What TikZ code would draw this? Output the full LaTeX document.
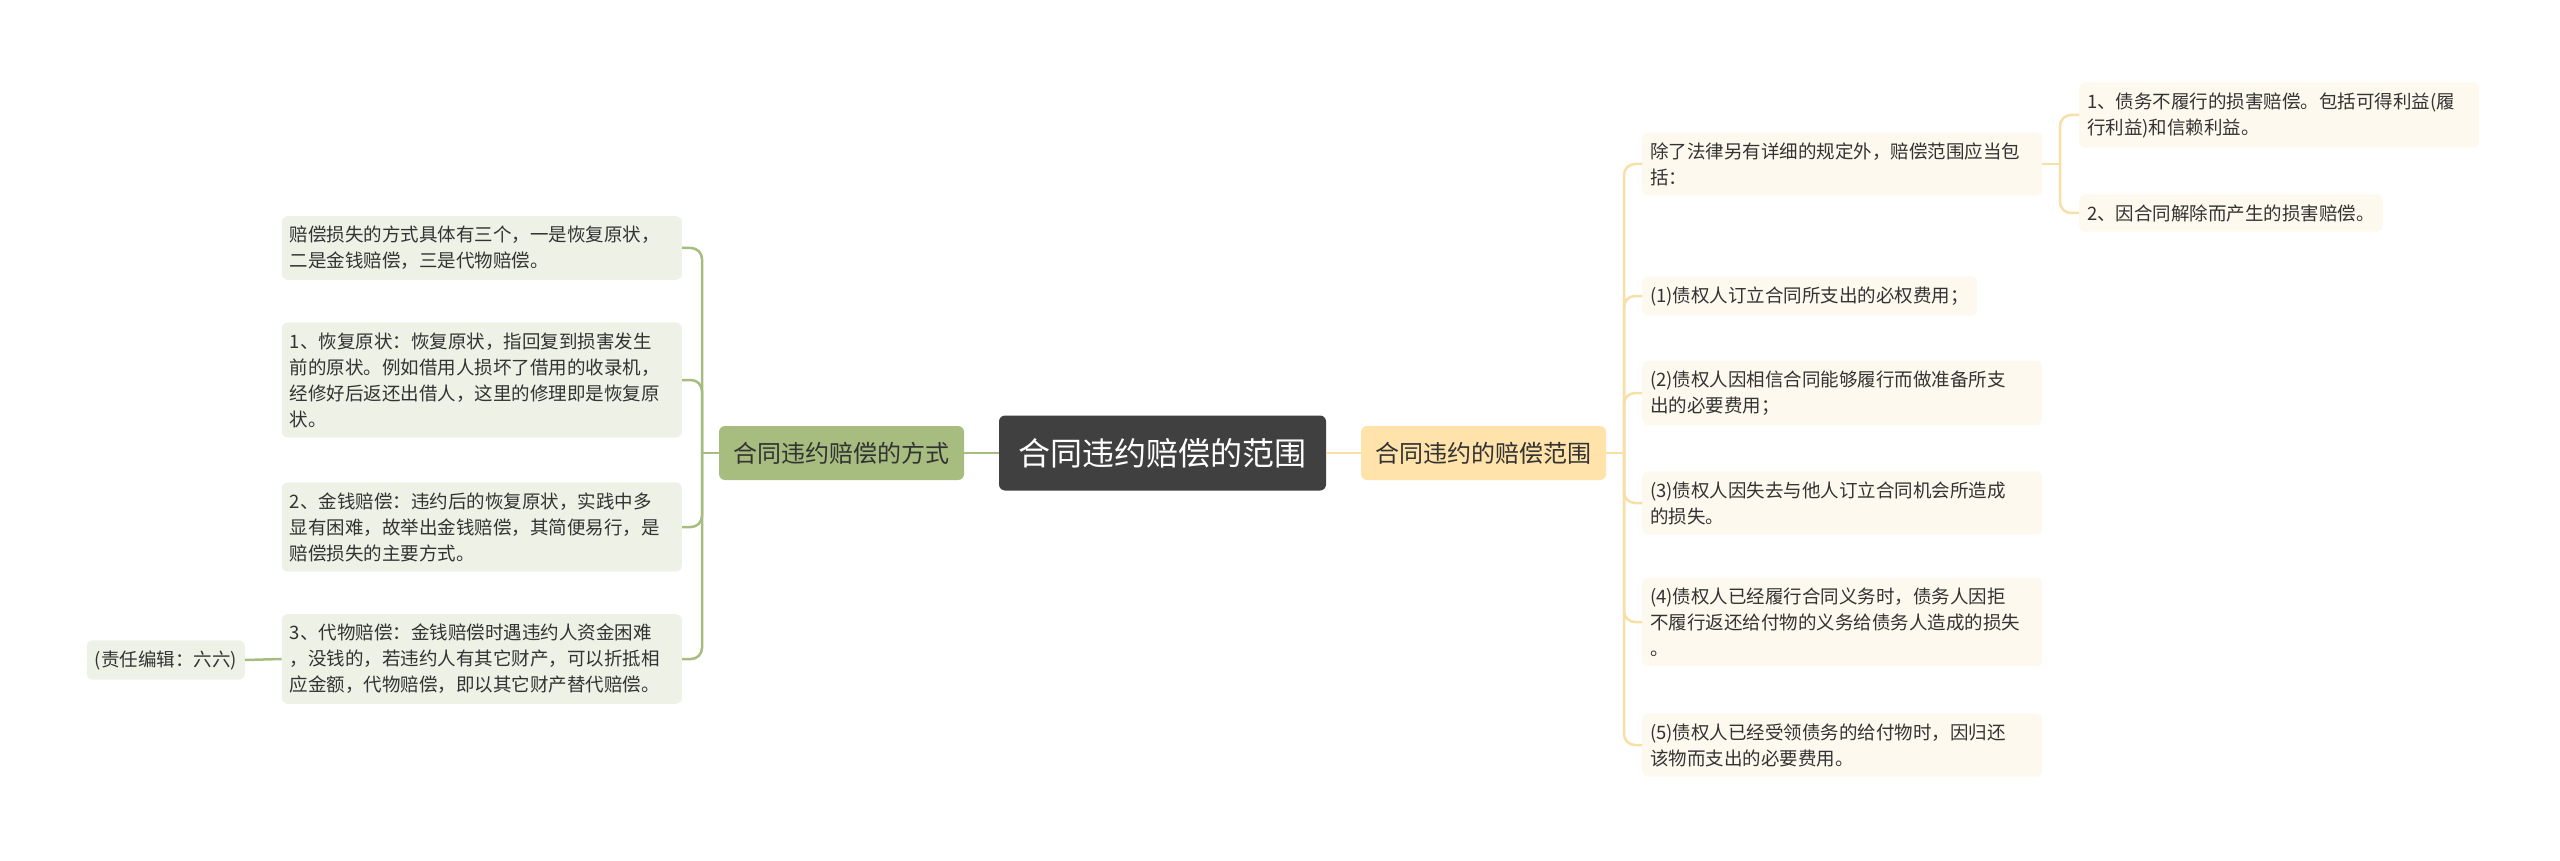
\documentclass[tikz,border=0pt]{standalone}
\usepackage{fontspec}
\setmainfont{Noto Sans CJK SC}
\definecolor{rootgray}{HTML}{404040}
\definecolor{olive}{HTML}{A7BD7F}
\definecolor{sage}{HTML}{EEF1E6}
\definecolor{wheat}{HTML}{FFE3AA}
\definecolor{cream}{HTML}{FEF9EE}
\definecolor{sand}{HTML}{F7DFA6}
\definecolor{ink}{HTML}{333333}
\tikzset{
  rootbox/.style={fill=rootgray,text=white,rounded corners=6pt,minimum width=327pt,minimum height=75pt,font=\fontsize{32}{38}\selectfont},
  leftmain/.style={fill=olive,text=ink,rounded corners=6pt,minimum width=245pt,minimum height=54pt,font=\fontsize{24}{28}\selectfont},
  rightmain/.style={leftmain,fill=wheat},
  leaf/.style={rounded corners=6pt,inner xsep=8pt,inner ysep=10pt,align=left,text=ink,font=\fontsize{18.5}{26}\selectfont},
  gleaf/.style={leaf,fill=sage},
  yleaf/.style={leaf,fill=cream},
  gline/.style={draw=olive,line width=2.5pt,rounded corners=11pt},
  yline/.style={draw=sand,line width=2.5pt,rounded corners=11pt}
}
\begin{document}
\begin{tikzpicture}[x=1pt,y=-1pt]
\useasboundingbox (0,0) rectangle (2560,861);
\node[rootbox] (root) at (1162.5,453) {合同违约赔偿的范围};
\node[leftmain] (lb) at (841.5,453) {合同违约赔偿的方式};
\node[rightmain] (rb) at (1483.5,453) {合同违约的赔偿范围};

\node[gleaf,text width=384pt,anchor=east] (l0) at (682,248) {赔偿损失的方式具体有三个，一是恢复原状，\\二是金钱赔偿，三是代物赔偿。};
\node[gleaf,text width=384pt,anchor=east] (l1) at (682,380) {1、恢复原状：恢复原状，指回复到损害发生\\前的原状。例如借用人损坏了借用的收录机，\\经修好后返还出借人，这里的修理即是恢复原\\状。};
\node[gleaf,text width=384pt,anchor=east] (l2) at (682,527) {2、金钱赔偿：违约后的恢复原状，实践中多\\显有困难，故举出金钱赔偿，其简便易行，是\\赔偿损失的主要方式。};
\node[gleaf,text width=384pt,anchor=east] (l3) at (682,659) {3、代物赔偿：金钱赔偿时遇违约人资金困难\\，没钱的，若违约人有其它财产，可以折抵相\\应金额，代物赔偿，即以其它财产替代赔偿。};
\node[gleaf,anchor=east] (ed) at (245,660) {(责任编辑：六六)};

\node[yleaf,text width=384pt,anchor=west] (r0) at (1642,164) {除了法律另有详细的规定外，赔偿范围应当包\\括：};
\node[yleaf,text width=384pt,anchor=west] (r0a) at (2079,115) {1、债务不履行的损害赔偿。包括可得利益(履\\行利益)和信赖利益。};
\node[yleaf,anchor=west] (r0b) at (2079,213) {2、因合同解除而产生的损害赔偿。};
\node[yleaf,anchor=west] (r1) at (1642,296) {(1)债权人订立合同所支出的必权费用；};
\node[yleaf,text width=384pt,anchor=west] (r2) at (1642,393) {(2)债权人因相信合同能够履行而做准备所支\\出的必要费用；};
\node[yleaf,text width=384pt,anchor=west] (r3) at (1642,503) {(3)债权人因失去与他人订立合同机会所造成\\的损失。};
\node[yleaf,text width=384pt,anchor=west] (r4) at (1642,622) {(4)债权人已经履行合同义务时，债务人因拒\\不履行返还给付物的义务给债务人造成的损失\\。};
\node[yleaf,text width=384pt,anchor=west] (r5) at (1642,745) {(5)债权人已经受领债务的给付物时，因归还\\该物而支出的必要费用。};

\draw[gline] (root.west) -- (lb.east);
\draw[yline] (root.east) -- (rb.west);
\coordinate (lt) at (702,453);
\draw[gline] (lb.west) -- (lt);
\foreach \n in {l0,l1,l2,l3} \draw[gline] (lt) |- (\n.east);
\draw[gline] (ed.east) -- (l3.west);
\coordinate (rt) at (1624,453);
\draw[yline] (rb.east) -- (rt);
\foreach \n in {r0,r1,r2,r3,r4,r5} \draw[yline] (rt) |- (\n.west);
\coordinate (st) at (2060,164);
\draw[yline] (r0.east) -- (st);
\foreach \n in {r0a,r0b} \draw[yline] (st) |- (\n.west);
\end{tikzpicture}
\end{document}
